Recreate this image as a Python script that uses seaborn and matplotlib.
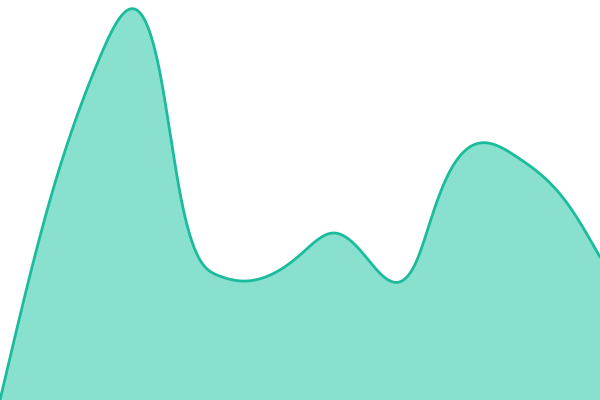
import numpy as np
import pandas as pd
import matplotlib
matplotlib.use("Agg")
import matplotlib.pyplot as plt
import seaborn as sns

# points (x position, height above the bottom)
xs = [0, 50, 100, 130, 160, 180, 200, 217, 247, 300, 333, 360, 393,
      417, 433, 447, 480, 517, 550, 567, 600]
heights = [0, 200, 343, 391, 327, 207, 140, 125, 119, 145, 167, 150, 118,
           140, 187, 223, 257, 243, 217, 197, 143]

line_color = "#1abc9c"
fill_color = "#8ae0ce"


def spline(x, y, xn):
    # natural cubic spline through the points
    x = np.asarray(x, float)
    y = np.asarray(y, float)
    n = len(x)
    h = np.diff(x)
    A = np.zeros((n, n))
    b = np.zeros(n)
    A[0, 0] = A[-1, -1] = 1
    for i in range(1, n - 1):
        A[i, i - 1] = h[i - 1]
        A[i, i] = 2 * (h[i - 1] + h[i])
        A[i, i + 1] = h[i]
        b[i] = 6 * ((y[i + 1] - y[i]) / h[i] - (y[i] - y[i - 1]) / h[i - 1])
    M = np.linalg.solve(A, b)
    idx = np.clip(np.searchsorted(x, xn) - 1, 0, n - 2)
    hi = h[idx]
    a = x[idx + 1] - xn
    c = xn - x[idx]
    return (M[idx] * a**3 / (6 * hi) + M[idx + 1] * c**3 / (6 * hi)
            + (y[idx] / hi - M[idx] * hi / 6) * a
            + (y[idx + 1] / hi - M[idx + 1] * hi / 6) * c)


sns.set_theme(style="white")

xx = np.linspace(0, 600, 1201)
df = pd.DataFrame({"x": xx, "y": spline(xs, heights, xx)})

fig = plt.figure(figsize=(6, 4), dpi=100)
ax = fig.add_axes([0, 0, 1, 1])

ax.fill_between(df["x"], df["y"], 0, color=fill_color, linewidth=0)
sns.lineplot(data=df, x="x", y="y", ax=ax, color=line_color, linewidth=2.0)

ax.set_xlim(0, 600)
ax.set_ylim(0, 400)
ax.axis("off")

plt.savefig("out.png", dpi=100)
